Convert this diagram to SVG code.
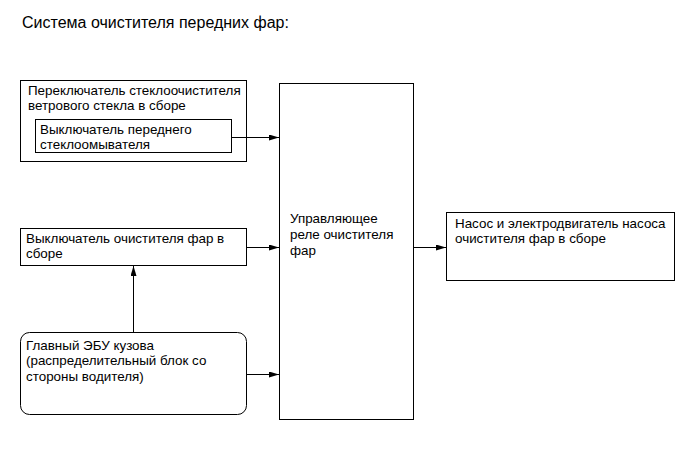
<svg xmlns="http://www.w3.org/2000/svg" width="690" height="465" viewBox="0 0 690 465">
<defs>
<marker id="ah" markerWidth="10" markerHeight="6" refX="10" refY="3" orient="auto" markerUnits="userSpaceOnUse">
<path d="M0,0 L10,3 L0,6 Z" fill="#000"/>
</marker>
<style>
.box{fill:#fff;stroke:#000;stroke-width:1}
.t{font-family:"Liberation Sans",Arial,sans-serif;font-size:13.4px;fill:#000}
.title{font-family:"Liberation Sans",Arial,sans-serif;font-size:16px;fill:#000}
.c{stroke:#000;stroke-width:1;fill:none;marker-end:url(#ah)}
</style>
</defs>
<rect width="690" height="465" fill="#fff"/>
<text class="title" x="22" y="28">Система очистителя передних фар:</text>
<g id="wiper-switch">
<rect class="box" x="20.5" y="80.5" width="226" height="81"/>
<text class="t" x="28" y="95">Переключатель стеклоочистителя</text>
<text class="t" x="28" y="110">ветрового стекла в сборе</text>
</g>
<g id="washer-switch">
<rect class="box" x="35.5" y="119.5" width="196" height="33"/>
<text class="t" x="40" y="134">Выключатель переднего</text>
<text class="t" x="40" y="149">стеклоомывателя</text>
</g>
<g id="cleaner-switch">
<rect class="box" x="20.5" y="228.5" width="226" height="37"/>
<text class="t" x="26" y="243">Выключатель очистителя фар в</text>
<text class="t" x="26" y="258">сборе</text>
</g>
<g id="ecu">
<rect class="box" x="20.5" y="332.5" width="226" height="82" rx="9"/>
<text class="t" x="26" y="349.5">Главный ЭБУ кузова</text>
<text class="t" x="26" y="365">(распределительный блок со</text>
<text class="t" x="26" y="380.5">стороны водителя)</text>
</g>
<g id="relay">
<rect class="box" x="279.5" y="83.5" width="134" height="336"/>
<text class="t" x="290" y="222.5">Управляющее</text>
<text class="t" x="290" y="238.5">реле очистителя</text>
<text class="t" x="290" y="254.5">фар</text>
</g>
<g id="pump">
<rect class="box" x="446.5" y="212.5" width="228" height="68"/>
<text class="t" x="455" y="228">Насос и электродвигатель насоса</text>
<text class="t" x="455" y="243">очистителя фар в сборе</text>
</g>
<g id="connectors">
<line class="c" x1="232" y1="137.5" x2="279" y2="137.5"/>
<line class="c" x1="247" y1="247.5" x2="279" y2="247.5"/>
<line class="c" x1="247" y1="374.5" x2="279" y2="374.5"/>
<line class="c" x1="413" y1="247.5" x2="446" y2="247.5"/>
<line class="c" x1="133.5" y1="332" x2="133.5" y2="266"/>
</g>
</svg>
